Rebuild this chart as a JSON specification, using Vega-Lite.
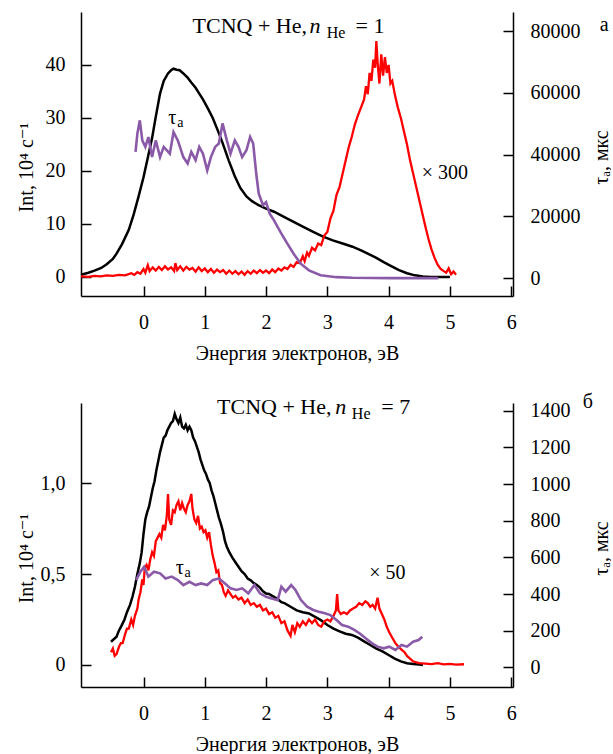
{
  "$schema": "https://vega.github.io/schema/vega-lite/v6.json",
  "padding": {"left": 16, "top": 12, "right": 0, "bottom": 0},
  "background": "white",
  "bounds": "flush",
  "spacing": 107,
  "config": {
    "view": {"stroke": null},
    "font": "Liberation Serif, Times New Roman, DejaVu Serif, serif",
    "axis": {"grid": false, "domainColor": "#000", "domainWidth": 1.5, "tickColor": "#000", "tickWidth": 1.5, "tickSize": -10, "labelFont": "Liberation Serif, Times New Roman, DejaVu Serif, serif", "labelFontSize": 20, "labelColor": "#000", "titleFont": "Liberation Serif, Times New Roman, DejaVu Serif, serif", "titleFontSize": 20, "titleFontWeight": "normal", "titleColor": "#000", "labelFlush": false, "labelOverlap": false},
    "axisX": {"labelPadding": 36, "labelBaseline": "middle", "titleY": 57, "titleBaseline": "middle"},
    "axisLeft": {"labelPadding": 26, "titleX": -55, "titleY": 155, "titleAngle": -90, "titleAlign": "center", "titleBaseline": "middle"},
    "axisRight": {"labelPadding": 27, "titleX": 88, "titleY": 145, "titleAngle": -90, "titleAlign": "center", "titleBaseline": "middle"},
    "text": {"font": "Liberation Serif, Times New Roman, DejaVu Serif, serif", "fontSize": 20, "color": "#000"}
  },
  "datasets": {
    "a_black": [
      {"x": -1.02, "y": 0.4}, {"x": -0.9, "y": 0.8}, {"x": -0.8, "y": 1.2}, {"x": -0.69, "y": 1.7}, {"x": -0.6, "y": 2.4}, {"x": -0.5, "y": 3.4}, {"x": -0.44, "y": 4.4}, {"x": -0.35, "y": 6.2}, {"x": -0.24, "y": 8.9}, {"x": -0.16, "y": 11.8}, {"x": -0.08, "y": 15.2}, {"x": 0.0, "y": 18.8}, {"x": 0.07, "y": 22.5}, {"x": 0.14, "y": 26.2}, {"x": 0.2, "y": 30.2}, {"x": 0.27, "y": 34.6}, {"x": 0.33, "y": 37.0}, {"x": 0.4, "y": 38.4}, {"x": 0.45, "y": 39.0}, {"x": 0.49, "y": 39.3}, {"x": 0.54, "y": 39.1}, {"x": 0.59, "y": 39.0}, {"x": 0.65, "y": 38.4}, {"x": 0.72, "y": 37.6}, {"x": 0.78, "y": 36.7}, {"x": 0.85, "y": 35.7}, {"x": 0.91, "y": 34.6}, {"x": 0.97, "y": 33.5}, {"x": 1.05, "y": 31.8}, {"x": 1.13, "y": 30.0}, {"x": 1.21, "y": 27.7}, {"x": 1.29, "y": 25.3}, {"x": 1.39, "y": 22.0}, {"x": 1.49, "y": 19.0}, {"x": 1.58, "y": 16.8}, {"x": 1.68, "y": 15.2}, {"x": 1.77, "y": 14.3}, {"x": 1.87, "y": 13.6}, {"x": 2.0, "y": 12.9}, {"x": 2.13, "y": 12.3}, {"x": 2.3, "y": 11.3}, {"x": 2.45, "y": 10.4}, {"x": 2.6, "y": 9.5}, {"x": 2.77, "y": 8.5}, {"x": 2.93, "y": 7.6}, {"x": 3.09, "y": 6.9}, {"x": 3.25, "y": 6.3}, {"x": 3.41, "y": 5.7}, {"x": 3.55, "y": 5.0}, {"x": 3.66, "y": 4.4}, {"x": 3.8, "y": 3.6}, {"x": 3.92, "y": 2.8}, {"x": 4.05, "y": 2.0}, {"x": 4.17, "y": 1.3}, {"x": 4.3, "y": 0.7}, {"x": 4.43, "y": 0.3}, {"x": 4.56, "y": 0.1}, {"x": 4.69, "y": 0.0}, {"x": 4.85, "y": 0.0}, {"x": 5.0, "y": 0.0}
    ],
    "a_red": [
      {"x": -1.02, "y": 0.1}, {"x": -0.9, "y": 0.0}, {"x": -0.8, "y": 0.2}, {"x": -0.7, "y": 0.1}, {"x": -0.6, "y": 0.3}, {"x": -0.5, "y": 0.2}, {"x": -0.4, "y": 0.4}, {"x": -0.3, "y": 0.3}, {"x": -0.2, "y": 0.7}, {"x": -0.15, "y": 0.4}, {"x": -0.1, "y": 0.9}, {"x": -0.05, "y": 0.6}, {"x": 0.0, "y": 1.5}, {"x": 0.03, "y": 0.8}, {"x": 0.07, "y": 2.2}, {"x": 0.1, "y": 1.1}, {"x": 0.15, "y": 1.8}, {"x": 0.2, "y": 1.2}, {"x": 0.25, "y": 1.9}, {"x": 0.3, "y": 1.3}, {"x": 0.35, "y": 2.0}, {"x": 0.4, "y": 1.4}, {"x": 0.45, "y": 1.8}, {"x": 0.5, "y": 1.1}, {"x": 0.52, "y": 2.6}, {"x": 0.55, "y": 1.3}, {"x": 0.6, "y": 2.0}, {"x": 0.65, "y": 1.2}, {"x": 0.7, "y": 1.9}, {"x": 0.75, "y": 1.4}, {"x": 0.8, "y": 1.7}, {"x": 0.85, "y": 1.0}, {"x": 0.9, "y": 1.8}, {"x": 0.95, "y": 1.1}, {"x": 1.0, "y": 1.6}, {"x": 1.05, "y": 0.9}, {"x": 1.1, "y": 1.5}, {"x": 1.15, "y": 0.8}, {"x": 1.2, "y": 1.4}, {"x": 1.25, "y": 0.9}, {"x": 1.3, "y": 1.3}, {"x": 1.35, "y": 0.6}, {"x": 1.4, "y": 1.2}, {"x": 1.45, "y": 0.6}, {"x": 1.5, "y": 1.1}, {"x": 1.55, "y": 0.5}, {"x": 1.6, "y": 1.0}, {"x": 1.65, "y": 0.4}, {"x": 1.7, "y": 1.1}, {"x": 1.75, "y": 0.6}, {"x": 1.8, "y": 1.2}, {"x": 1.85, "y": 0.7}, {"x": 1.9, "y": 1.3}, {"x": 1.95, "y": 0.8}, {"x": 2.0, "y": 1.2}, {"x": 2.05, "y": 0.7}, {"x": 2.1, "y": 1.4}, {"x": 2.15, "y": 0.9}, {"x": 2.2, "y": 1.6}, {"x": 2.25, "y": 1.2}, {"x": 2.3, "y": 1.8}, {"x": 2.35, "y": 1.5}, {"x": 2.4, "y": 2.3}, {"x": 2.45, "y": 1.9}, {"x": 2.5, "y": 2.8}, {"x": 2.55, "y": 2.6}, {"x": 2.6, "y": 3.9}, {"x": 2.63, "y": 3.0}, {"x": 2.67, "y": 4.6}, {"x": 2.7, "y": 4.0}, {"x": 2.75, "y": 5.5}, {"x": 2.8, "y": 5.0}, {"x": 2.85, "y": 6.3}, {"x": 2.9, "y": 6.0}, {"x": 2.95, "y": 7.8}, {"x": 3.0, "y": 8.5}, {"x": 3.05, "y": 11.0}, {"x": 3.1, "y": 12.5}, {"x": 3.15, "y": 15.5}, {"x": 3.2, "y": 17.0}, {"x": 3.25, "y": 19.5}, {"x": 3.3, "y": 22.0}, {"x": 3.35, "y": 24.5}, {"x": 3.4, "y": 26.5}, {"x": 3.45, "y": 28.8}, {"x": 3.5, "y": 30.5}, {"x": 3.55, "y": 32.0}, {"x": 3.6, "y": 33.5}, {"x": 3.63, "y": 36.0}, {"x": 3.66, "y": 34.5}, {"x": 3.69, "y": 38.5}, {"x": 3.72, "y": 37.0}, {"x": 3.75, "y": 41.0}, {"x": 3.78, "y": 39.5}, {"x": 3.8, "y": 44.5}, {"x": 3.82, "y": 40.5}, {"x": 3.85, "y": 36.5}, {"x": 3.88, "y": 42.0}, {"x": 3.91, "y": 38.0}, {"x": 3.94, "y": 41.5}, {"x": 3.97, "y": 38.5}, {"x": 4.0, "y": 40.0}, {"x": 4.03, "y": 36.5}, {"x": 4.06, "y": 37.0}, {"x": 4.1, "y": 34.5}, {"x": 4.15, "y": 32.0}, {"x": 4.2, "y": 30.0}, {"x": 4.25, "y": 27.5}, {"x": 4.3, "y": 25.0}, {"x": 4.35, "y": 22.0}, {"x": 4.4, "y": 19.5}, {"x": 4.45, "y": 17.0}, {"x": 4.5, "y": 14.5}, {"x": 4.55, "y": 12.0}, {"x": 4.6, "y": 9.5}, {"x": 4.65, "y": 7.2}, {"x": 4.7, "y": 5.2}, {"x": 4.75, "y": 3.6}, {"x": 4.8, "y": 2.3}, {"x": 4.85, "y": 1.5}, {"x": 4.9, "y": 1.1}, {"x": 4.94, "y": 0.8}, {"x": 4.98, "y": 1.6}, {"x": 5.02, "y": 0.5}, {"x": 5.06, "y": 1.0}, {"x": 5.1, "y": 0.4}
    ],
    "a_tau": [
      {"x": -0.13, "y": 40900}, {"x": -0.1, "y": 46800}, {"x": -0.06, "y": 51100}, {"x": -0.02, "y": 44600}, {"x": 0.03, "y": 42500}, {"x": 0.08, "y": 45700}, {"x": 0.14, "y": 39200}, {"x": 0.2, "y": 44600}, {"x": 0.27, "y": 39200}, {"x": 0.33, "y": 42500}, {"x": 0.43, "y": 40300}, {"x": 0.49, "y": 47300}, {"x": 0.56, "y": 44600}, {"x": 0.65, "y": 39200}, {"x": 0.72, "y": 37100}, {"x": 0.78, "y": 40900}, {"x": 0.85, "y": 38200}, {"x": 0.91, "y": 42500}, {"x": 0.97, "y": 40300}, {"x": 1.04, "y": 34900}, {"x": 1.1, "y": 39200}, {"x": 1.17, "y": 42500}, {"x": 1.23, "y": 43600}, {"x": 1.29, "y": 50100}, {"x": 1.36, "y": 44600}, {"x": 1.42, "y": 40300}, {"x": 1.49, "y": 44600}, {"x": 1.55, "y": 42500}, {"x": 1.61, "y": 39200}, {"x": 1.68, "y": 41400}, {"x": 1.74, "y": 45700}, {"x": 1.79, "y": 43600}, {"x": 1.84, "y": 33800}, {"x": 1.88, "y": 27400}, {"x": 1.95, "y": 23600}, {"x": 2.0, "y": 24600}, {"x": 2.06, "y": 20900}, {"x": 2.13, "y": 18700}, {"x": 2.19, "y": 16500}, {"x": 2.25, "y": 14400}, {"x": 2.35, "y": 11100}, {"x": 2.45, "y": 7900}, {"x": 2.57, "y": 4600}, {"x": 2.7, "y": 2500}, {"x": 2.89, "y": 900}, {"x": 3.15, "y": 300}, {"x": 3.41, "y": 100}, {"x": 4.05, "y": 0}, {"x": 4.81, "y": 0}
    ],
    "b_black": [
      {"x": -0.53, "y": 0.128}, {"x": -0.49, "y": 0.14}, {"x": -0.44, "y": 0.155}, {"x": -0.4, "y": 0.19}, {"x": -0.36, "y": 0.215}, {"x": -0.31, "y": 0.25}, {"x": -0.27, "y": 0.29}, {"x": -0.22, "y": 0.33}, {"x": -0.18, "y": 0.375}, {"x": -0.14, "y": 0.43}, {"x": -0.1, "y": 0.5}, {"x": -0.06, "y": 0.56}, {"x": -0.03, "y": 0.62}, {"x": 0.0, "y": 0.72}, {"x": 0.03, "y": 0.8}, {"x": 0.06, "y": 0.84}, {"x": 0.09, "y": 0.87}, {"x": 0.12, "y": 0.92}, {"x": 0.15, "y": 0.97}, {"x": 0.18, "y": 1.01}, {"x": 0.21, "y": 1.07}, {"x": 0.24, "y": 1.12}, {"x": 0.27, "y": 1.17}, {"x": 0.3, "y": 1.21}, {"x": 0.33, "y": 1.25}, {"x": 0.36, "y": 1.26}, {"x": 0.39, "y": 1.29}, {"x": 0.42, "y": 1.31}, {"x": 0.45, "y": 1.33}, {"x": 0.48, "y": 1.34}, {"x": 0.51, "y": 1.38}, {"x": 0.54, "y": 1.35}, {"x": 0.57, "y": 1.33}, {"x": 0.6, "y": 1.36}, {"x": 0.63, "y": 1.31}, {"x": 0.66, "y": 1.3}, {"x": 0.69, "y": 1.32}, {"x": 0.72, "y": 1.29}, {"x": 0.75, "y": 1.31}, {"x": 0.78, "y": 1.29}, {"x": 0.81, "y": 1.25}, {"x": 0.84, "y": 1.23}, {"x": 0.87, "y": 1.2}, {"x": 0.9, "y": 1.17}, {"x": 0.93, "y": 1.13}, {"x": 0.96, "y": 1.1}, {"x": 0.99, "y": 1.07}, {"x": 1.02, "y": 1.05}, {"x": 1.05, "y": 1.02}, {"x": 1.08, "y": 1.0}, {"x": 1.11, "y": 0.96}, {"x": 1.14, "y": 0.93}, {"x": 1.17, "y": 0.89}, {"x": 1.2, "y": 0.85}, {"x": 1.23, "y": 0.81}, {"x": 1.26, "y": 0.78}, {"x": 1.3, "y": 0.73}, {"x": 1.33, "y": 0.68}, {"x": 1.36, "y": 0.65}, {"x": 1.4, "y": 0.62}, {"x": 1.45, "y": 0.59}, {"x": 1.5, "y": 0.565}, {"x": 1.55, "y": 0.54}, {"x": 1.6, "y": 0.515}, {"x": 1.65, "y": 0.5}, {"x": 1.7, "y": 0.475}, {"x": 1.75, "y": 0.465}, {"x": 1.8, "y": 0.45}, {"x": 1.85, "y": 0.44}, {"x": 1.9, "y": 0.425}, {"x": 1.95, "y": 0.405}, {"x": 2.0, "y": 0.393}, {"x": 2.05, "y": 0.39}, {"x": 2.1, "y": 0.38}, {"x": 2.15, "y": 0.37}, {"x": 2.2, "y": 0.36}, {"x": 2.25, "y": 0.345}, {"x": 2.3, "y": 0.34}, {"x": 2.4, "y": 0.32}, {"x": 2.5, "y": 0.3}, {"x": 2.6, "y": 0.29}, {"x": 2.7, "y": 0.283}, {"x": 2.8, "y": 0.265}, {"x": 2.9, "y": 0.245}, {"x": 3.0, "y": 0.22}, {"x": 3.1, "y": 0.2}, {"x": 3.2, "y": 0.185}, {"x": 3.3, "y": 0.172}, {"x": 3.4, "y": 0.165}, {"x": 3.5, "y": 0.15}, {"x": 3.6, "y": 0.13}, {"x": 3.7, "y": 0.11}, {"x": 3.8, "y": 0.09}, {"x": 3.9, "y": 0.075}, {"x": 4.0, "y": 0.055}, {"x": 4.1, "y": 0.035}, {"x": 4.2, "y": 0.02}, {"x": 4.3, "y": 0.01}, {"x": 4.4, "y": 0.005}, {"x": 4.5, "y": 0.002}, {"x": 4.56, "y": 0.0}
    ],
    "b_red": [
      {"x": -0.53, "y": 0.07}, {"x": -0.5, "y": 0.09}, {"x": -0.47, "y": 0.05}, {"x": -0.44, "y": 0.06}, {"x": -0.4, "y": 0.1}, {"x": -0.37, "y": 0.12}, {"x": -0.34, "y": 0.12}, {"x": -0.3, "y": 0.17}, {"x": -0.27, "y": 0.2}, {"x": -0.24, "y": 0.2}, {"x": -0.2, "y": 0.25}, {"x": -0.17, "y": 0.22}, {"x": -0.14, "y": 0.27}, {"x": -0.1, "y": 0.31}, {"x": -0.08, "y": 0.36}, {"x": -0.05, "y": 0.4}, {"x": -0.02, "y": 0.47}, {"x": 0.0, "y": 0.44}, {"x": 0.02, "y": 0.53}, {"x": 0.05, "y": 0.55}, {"x": 0.08, "y": 0.52}, {"x": 0.11, "y": 0.58}, {"x": 0.14, "y": 0.62}, {"x": 0.17, "y": 0.6}, {"x": 0.2, "y": 0.68}, {"x": 0.23, "y": 0.7}, {"x": 0.26, "y": 0.72}, {"x": 0.29, "y": 0.7}, {"x": 0.32, "y": 0.77}, {"x": 0.35, "y": 0.74}, {"x": 0.38, "y": 0.82}, {"x": 0.4, "y": 0.94}, {"x": 0.42, "y": 0.8}, {"x": 0.45, "y": 0.77}, {"x": 0.48, "y": 0.85}, {"x": 0.51, "y": 0.84}, {"x": 0.54, "y": 0.88}, {"x": 0.57, "y": 0.9}, {"x": 0.6, "y": 0.85}, {"x": 0.63, "y": 0.89}, {"x": 0.66, "y": 0.86}, {"x": 0.69, "y": 0.84}, {"x": 0.72, "y": 0.88}, {"x": 0.75, "y": 0.9}, {"x": 0.78, "y": 0.94}, {"x": 0.8, "y": 0.86}, {"x": 0.83, "y": 0.8}, {"x": 0.86, "y": 0.78}, {"x": 0.89, "y": 0.82}, {"x": 0.92, "y": 0.75}, {"x": 0.95, "y": 0.76}, {"x": 0.98, "y": 0.73}, {"x": 1.01, "y": 0.74}, {"x": 1.04, "y": 0.7}, {"x": 1.07, "y": 0.73}, {"x": 1.1, "y": 0.66}, {"x": 1.13, "y": 0.6}, {"x": 1.16, "y": 0.56}, {"x": 1.19, "y": 0.51}, {"x": 1.22, "y": 0.52}, {"x": 1.25, "y": 0.45}, {"x": 1.28, "y": 0.44}, {"x": 1.31, "y": 0.4}, {"x": 1.34, "y": 0.38}, {"x": 1.38, "y": 0.41}, {"x": 1.42, "y": 0.39}, {"x": 1.46, "y": 0.37}, {"x": 1.5, "y": 0.38}, {"x": 1.55, "y": 0.36}, {"x": 1.6, "y": 0.37}, {"x": 1.65, "y": 0.34}, {"x": 1.7, "y": 0.36}, {"x": 1.75, "y": 0.33}, {"x": 1.8, "y": 0.34}, {"x": 1.85, "y": 0.32}, {"x": 1.9, "y": 0.33}, {"x": 1.95, "y": 0.3}, {"x": 2.0, "y": 0.31}, {"x": 2.05, "y": 0.28}, {"x": 2.1, "y": 0.29}, {"x": 2.15, "y": 0.26}, {"x": 2.2, "y": 0.27}, {"x": 2.25, "y": 0.23}, {"x": 2.3, "y": 0.24}, {"x": 2.35, "y": 0.19}, {"x": 2.4, "y": 0.16}, {"x": 2.43, "y": 0.22}, {"x": 2.47, "y": 0.18}, {"x": 2.51, "y": 0.23}, {"x": 2.55, "y": 0.21}, {"x": 2.6, "y": 0.24}, {"x": 2.65, "y": 0.22}, {"x": 2.7, "y": 0.25}, {"x": 2.75, "y": 0.23}, {"x": 2.8, "y": 0.25}, {"x": 2.85, "y": 0.22}, {"x": 2.9, "y": 0.21}, {"x": 2.95, "y": 0.24}, {"x": 3.0, "y": 0.25}, {"x": 3.05, "y": 0.24}, {"x": 3.1, "y": 0.27}, {"x": 3.14, "y": 0.3}, {"x": 3.16, "y": 0.39}, {"x": 3.18, "y": 0.3}, {"x": 3.22, "y": 0.28}, {"x": 3.27, "y": 0.29}, {"x": 3.32, "y": 0.28}, {"x": 3.37, "y": 0.3}, {"x": 3.42, "y": 0.31}, {"x": 3.47, "y": 0.32}, {"x": 3.52, "y": 0.34}, {"x": 3.57, "y": 0.33}, {"x": 3.62, "y": 0.35}, {"x": 3.66, "y": 0.34}, {"x": 3.7, "y": 0.32}, {"x": 3.74, "y": 0.33}, {"x": 3.78, "y": 0.31}, {"x": 3.82, "y": 0.37}, {"x": 3.85, "y": 0.31}, {"x": 3.89, "y": 0.28}, {"x": 3.93, "y": 0.25}, {"x": 3.97, "y": 0.21}, {"x": 4.01, "y": 0.18}, {"x": 4.06, "y": 0.15}, {"x": 4.11, "y": 0.12}, {"x": 4.16, "y": 0.1}, {"x": 4.21, "y": 0.085}, {"x": 4.26, "y": 0.07}, {"x": 4.3, "y": 0.05}, {"x": 4.35, "y": 0.035}, {"x": 4.4, "y": 0.02}, {"x": 4.45, "y": 0.015}, {"x": 4.5, "y": 0.01}, {"x": 4.6, "y": 0.008}, {"x": 4.7, "y": 0.005}, {"x": 4.8, "y": 0.01}, {"x": 4.9, "y": 0.003}, {"x": 5.0, "y": 0.006}, {"x": 5.1, "y": 0.002}, {"x": 5.23, "y": 0.004}
    ],
    "b_tau": [
      {"x": -0.12, "y": 476}, {"x": -0.05, "y": 522}, {"x": 0.01, "y": 549}, {"x": 0.08, "y": 495}, {"x": 0.17, "y": 522}, {"x": 0.27, "y": 513}, {"x": 0.36, "y": 485}, {"x": 0.46, "y": 495}, {"x": 0.56, "y": 476}, {"x": 0.65, "y": 449}, {"x": 0.75, "y": 467}, {"x": 0.85, "y": 449}, {"x": 0.94, "y": 458}, {"x": 1.04, "y": 449}, {"x": 1.13, "y": 476}, {"x": 1.23, "y": 485}, {"x": 1.33, "y": 458}, {"x": 1.42, "y": 431}, {"x": 1.52, "y": 422}, {"x": 1.61, "y": 431}, {"x": 1.71, "y": 404}, {"x": 1.81, "y": 449}, {"x": 1.9, "y": 404}, {"x": 2.0, "y": 385}, {"x": 2.09, "y": 376}, {"x": 2.19, "y": 367}, {"x": 2.25, "y": 440}, {"x": 2.32, "y": 413}, {"x": 2.41, "y": 449}, {"x": 2.48, "y": 422}, {"x": 2.57, "y": 367}, {"x": 2.67, "y": 331}, {"x": 2.77, "y": 313}, {"x": 2.86, "y": 304}, {"x": 2.96, "y": 295}, {"x": 3.05, "y": 285}, {"x": 3.15, "y": 258}, {"x": 3.24, "y": 231}, {"x": 3.34, "y": 222}, {"x": 3.44, "y": 204}, {"x": 3.53, "y": 185}, {"x": 3.63, "y": 158}, {"x": 3.73, "y": 131}, {"x": 3.82, "y": 113}, {"x": 3.92, "y": 104}, {"x": 4.01, "y": 113}, {"x": 4.11, "y": 95}, {"x": 4.21, "y": 122}, {"x": 4.3, "y": 113}, {"x": 4.4, "y": 140}, {"x": 4.49, "y": 149}, {"x": 4.55, "y": 167}
    ]
  },
  "vconcat": [
    {
      "width": 432,
      "height": 284,
      "layer": [
        {
          "layer": [
            {"data": {"name": "a_black"}, "mark": {"type": "line", "color": "#000", "strokeWidth": 2.5},
             "encoding": {"x": {"field": "x", "type": "quantitative", "title": "Энергия электронов, эВ", "scale": {"domain": [-1.02, 6.03], "nice": false, "zero": false}, "axis": {"values": [0, 1, 2, 3, 4, 5, 6], "format": "d"}},
                          "y": {"field": "y", "type": "quantitative", "title": "Int, 10⁴ с⁻¹", "scale": {"domain": [-3.6, 50], "nice": false, "zero": false}, "axis": {"orient": "left", "values": [0, 10, 20, 30, 40]}}}},
            {"data": {"name": "a_red"}, "mark": {"type": "line", "color": "#ff0000", "strokeWidth": 2.3},
             "encoding": {"x": {"field": "x", "type": "quantitative", "title": "Энергия электронов, эВ", "scale": {"domain": [-1.02, 6.03], "nice": false, "zero": false}},
                          "y": {"field": "y", "type": "quantitative", "title": "Int, 10⁴ с⁻¹", "scale": {"domain": [-3.6, 50], "nice": false, "zero": false}}}},
            {"data": {"values": [{}]}, "mark": {"type": "text", "text": "TCNQ + He,", "fontSize": 22, "align": "left", "baseline": "alphabetic"},
             "encoding": {"x": {"datum": 0.8, "type": "quantitative", "title": "Энергия электронов, эВ", "scale": {"domain": [-1.02, 6.03], "nice": false, "zero": false}},
                          "y": {"datum": 46.0, "type": "quantitative", "title": "Int, 10⁴ с⁻¹", "scale": {"domain": [-3.6, 50], "nice": false, "zero": false}}}},
            {"data": {"values": [{}]}, "mark": {"type": "text", "text": "n", "fontSize": 22, "fontStyle": "italic", "align": "left", "baseline": "alphabetic"},
             "encoding": {"x": {"datum": 2.71, "type": "quantitative", "title": "Энергия электронов, эВ", "scale": {"domain": [-1.02, 6.03], "nice": false, "zero": false}},
                          "y": {"datum": 46.0, "type": "quantitative", "title": "Int, 10⁴ с⁻¹", "scale": {"domain": [-3.6, 50], "nice": false, "zero": false}}}},
            {"data": {"values": [{}]}, "mark": {"type": "text", "text": "He", "fontSize": 16, "dy": 5, "align": "left", "baseline": "alphabetic"},
             "encoding": {"x": {"datum": 2.99, "type": "quantitative", "title": "Энергия электронов, эВ", "scale": {"domain": [-1.02, 6.03], "nice": false, "zero": false}},
                          "y": {"datum": 46.0, "type": "quantitative", "title": "Int, 10⁴ с⁻¹", "scale": {"domain": [-3.6, 50], "nice": false, "zero": false}}}},
            {"data": {"values": [{}]}, "mark": {"type": "text", "text": "= 1", "fontSize": 22, "align": "left", "baseline": "alphabetic"},
             "encoding": {"x": {"datum": 3.46, "type": "quantitative", "title": "Энергия электронов, эВ", "scale": {"domain": [-1.02, 6.03], "nice": false, "zero": false}},
                          "y": {"datum": 46.0, "type": "quantitative", "title": "Int, 10⁴ с⁻¹", "scale": {"domain": [-3.6, 50], "nice": false, "zero": false}}}},
            {"data": {"values": [{}]}, "mark": {"type": "text", "text": "τ", "align": "center", "baseline": "middle"},
             "encoding": {"x": {"datum": 0.47, "type": "quantitative", "title": "Энергия электронов, эВ", "scale": {"domain": [-1.02, 6.03], "nice": false, "zero": false}},
                          "y": {"datum": 30, "type": "quantitative", "title": "Int, 10⁴ с⁻¹", "scale": {"domain": [-3.6, 50], "nice": false, "zero": false}}}},
            {"data": {"values": [{}]}, "mark": {"type": "text", "text": "a", "fontSize": 14, "dy": 5, "align": "left", "baseline": "middle"},
             "encoding": {"x": {"datum": 0.55, "type": "quantitative", "title": "Энергия электронов, эВ", "scale": {"domain": [-1.02, 6.03], "nice": false, "zero": false}},
                          "y": {"datum": 30, "type": "quantitative", "title": "Int, 10⁴ с⁻¹", "scale": {"domain": [-3.6, 50], "nice": false, "zero": false}}}},
            {"data": {"values": [{}]}, "mark": {"type": "text", "text": "× 300", "align": "center", "baseline": "middle"},
             "encoding": {"x": {"datum": 4.92, "type": "quantitative", "title": "Энергия электронов, эВ", "scale": {"domain": [-1.02, 6.03], "nice": false, "zero": false}},
                          "y": {"datum": 19.7, "type": "quantitative", "title": "Int, 10⁴ с⁻¹", "scale": {"domain": [-3.6, 50], "nice": false, "zero": false}}}},
            {"data": {"values": [{}]}, "mark": {"type": "text", "text": "а", "align": "center", "baseline": "middle"},
             "encoding": {"x": {"datum": 7.52, "type": "quantitative", "title": "Энергия электронов, эВ", "scale": {"domain": [-1.02, 6.03], "nice": false, "zero": false}},
                          "y": {"datum": 47.5, "type": "quantitative", "title": "Int, 10⁴ с⁻¹", "scale": {"domain": [-3.6, 50], "nice": false, "zero": false}}}}
          ]
        },
        {"data": {"name": "a_tau"}, "mark": {"type": "line", "color": "#8a5aa8", "strokeWidth": 2.6},
         "encoding": {"x": {"field": "x", "type": "quantitative", "title": "Энергия электронов, эВ", "scale": {"domain": [-1.02, 6.03], "nice": false, "zero": false}},
                      "y": {"field": "y", "type": "quantitative", "title": "τₐ, мкс", "scale": {"domain": [-5800, 86200], "nice": false, "zero": false}, "axis": {"orient": "right", "values": [0, 20000, 40000, 60000, 80000], "format": "d"}}}}
      ],
      "resolve": {"scale": {"y": "independent"}, "axis": {"y": "independent"}}
    },
    {
      "width": 432,
      "height": 284,
      "layer": [
        {
          "layer": [
            {"data": {"name": "b_black"}, "mark": {"type": "line", "color": "#000", "strokeWidth": 2.5},
             "encoding": {"x": {"field": "x", "type": "quantitative", "title": "Энергия электронов, эВ", "scale": {"domain": [-1.02, 6.03], "nice": false, "zero": false}, "axis": {"values": [0, 1, 2, 3, 4, 5, 6], "format": "d"}},
                          "y": {"field": "y", "type": "quantitative", "title": "Int, 10⁴ с⁻¹", "scale": {"domain": [-0.121, 1.44], "nice": false, "zero": false}, "axis": {"orient": "left", "values": [0, 0.5, 1], "labelExpr": "datum.value == 0 ? '0' : replace(format(datum.value, '.1f'), '.', ',')"}}}},
            {"data": {"name": "b_red"}, "mark": {"type": "line", "color": "#ff0000", "strokeWidth": 2.3},
             "encoding": {"x": {"field": "x", "type": "quantitative", "title": "Энергия электронов, эВ", "scale": {"domain": [-1.02, 6.03], "nice": false, "zero": false}},
                          "y": {"field": "y", "type": "quantitative", "title": "Int, 10⁴ с⁻¹", "scale": {"domain": [-0.121, 1.44], "nice": false, "zero": false}}}},
            {"data": {"values": [{}]}, "mark": {"type": "text", "text": "TCNQ + He,", "fontSize": 22, "align": "left", "baseline": "alphabetic"},
             "encoding": {"x": {"datum": 1.2, "type": "quantitative", "title": "Энергия электронов, эВ", "scale": {"domain": [-1.02, 6.03], "nice": false, "zero": false}},
                          "y": {"datum": 1.38, "type": "quantitative", "title": "Int, 10⁴ с⁻¹", "scale": {"domain": [-0.121, 1.44], "nice": false, "zero": false}}}},
            {"data": {"values": [{}]}, "mark": {"type": "text", "text": "n", "fontSize": 22, "fontStyle": "italic", "align": "left", "baseline": "alphabetic"},
             "encoding": {"x": {"datum": 3.13, "type": "quantitative", "title": "Энергия электронов, эВ", "scale": {"domain": [-1.02, 6.03], "nice": false, "zero": false}},
                          "y": {"datum": 1.38, "type": "quantitative", "title": "Int, 10⁴ с⁻¹", "scale": {"domain": [-0.121, 1.44], "nice": false, "zero": false}}}},
            {"data": {"values": [{}]}, "mark": {"type": "text", "text": "He", "fontSize": 16, "dy": 5, "align": "left", "baseline": "alphabetic"},
             "encoding": {"x": {"datum": 3.4, "type": "quantitative", "title": "Энергия электронов, эВ", "scale": {"domain": [-1.02, 6.03], "nice": false, "zero": false}},
                          "y": {"datum": 1.38, "type": "quantitative", "title": "Int, 10⁴ с⁻¹", "scale": {"domain": [-0.121, 1.44], "nice": false, "zero": false}}}},
            {"data": {"values": [{}]}, "mark": {"type": "text", "text": "= 7", "fontSize": 22, "align": "left", "baseline": "alphabetic"},
             "encoding": {"x": {"datum": 3.88, "type": "quantitative", "title": "Энергия электронов, эВ", "scale": {"domain": [-1.02, 6.03], "nice": false, "zero": false}},
                          "y": {"datum": 1.38, "type": "quantitative", "title": "Int, 10⁴ с⁻¹", "scale": {"domain": [-0.121, 1.44], "nice": false, "zero": false}}}},
            {"data": {"values": [{}]}, "mark": {"type": "text", "text": "τ", "align": "center", "baseline": "middle"},
             "encoding": {"x": {"datum": 0.59, "type": "quantitative", "title": "Энергия электронов, эВ", "scale": {"domain": [-1.02, 6.03], "nice": false, "zero": false}},
                          "y": {"datum": 0.535, "type": "quantitative", "title": "Int, 10⁴ с⁻¹", "scale": {"domain": [-0.121, 1.44], "nice": false, "zero": false}}}},
            {"data": {"values": [{}]}, "mark": {"type": "text", "text": "a", "fontSize": 14, "dy": 5, "align": "left", "baseline": "middle"},
             "encoding": {"x": {"datum": 0.67, "type": "quantitative", "title": "Энергия электронов, эВ", "scale": {"domain": [-1.02, 6.03], "nice": false, "zero": false}},
                          "y": {"datum": 0.535, "type": "quantitative", "title": "Int, 10⁴ с⁻¹", "scale": {"domain": [-0.121, 1.44], "nice": false, "zero": false}}}},
            {"data": {"values": [{}]}, "mark": {"type": "text", "text": "× 50", "align": "center", "baseline": "middle"},
             "encoding": {"x": {"datum": 3.98, "type": "quantitative", "title": "Энергия электронов, эВ", "scale": {"domain": [-1.02, 6.03], "nice": false, "zero": false}},
                          "y": {"datum": 0.503, "type": "quantitative", "title": "Int, 10⁴ с⁻¹", "scale": {"domain": [-0.121, 1.44], "nice": false, "zero": false}}}},
            {"data": {"values": [{}]}, "mark": {"type": "text", "text": "б", "align": "center", "baseline": "middle"},
             "encoding": {"x": {"datum": 7.25, "type": "quantitative", "title": "Энергия электронов, эВ", "scale": {"domain": [-1.02, 6.03], "nice": false, "zero": false}},
                          "y": {"datum": 1.445, "type": "quantitative", "title": "Int, 10⁴ с⁻¹", "scale": {"domain": [-0.121, 1.44], "nice": false, "zero": false}}}}
          ]
        },
        {"data": {"name": "b_tau"}, "mark": {"type": "line", "color": "#8a5aa8", "strokeWidth": 2.6},
         "encoding": {"x": {"field": "x", "type": "quantitative", "title": "Энергия электронов, эВ", "scale": {"domain": [-1.02, 6.03], "nice": false, "zero": false}},
                      "y": {"field": "y", "type": "quantitative", "title": "τₐ, мкс", "scale": {"domain": [-107, 1442], "nice": false, "zero": false}, "axis": {"orient": "right", "values": [0, 200, 400, 600, 800, 1000, 1200, 1400], "format": "d"}}}}
      ],
      "resolve": {"scale": {"y": "independent"}, "axis": {"y": "independent"}}
    }
  ]
}
